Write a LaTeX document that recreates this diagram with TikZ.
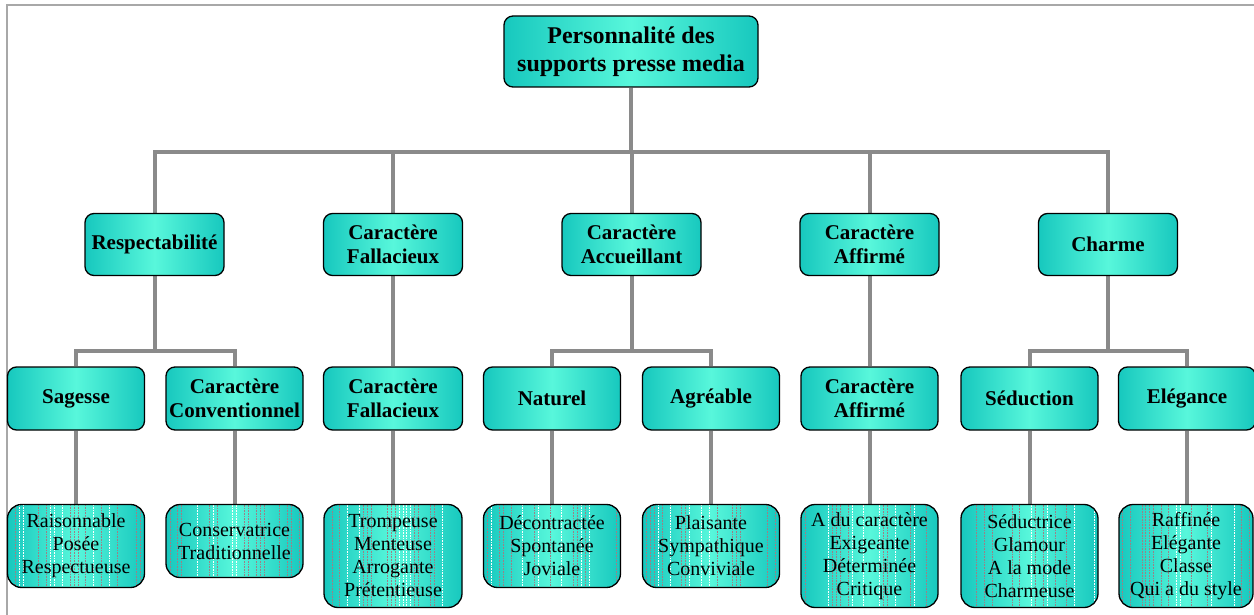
\documentclass[tikz,border=0pt]{standalone}
\usepackage{fontspec}
\setmainfont{Liberation Serif}
\usetikzlibrary{calc}
\pgfdeclarelayer{background}
\pgfsetlayers{background,main}
\definecolor{tealedge}{HTML}{17C8BE}
\definecolor{tealmid}{HTML}{58F7DB}
\definecolor{wire}{HTML}{8A8A8A}
\definecolor{framegray}{HTML}{A8A8A8}
\definecolor{stripedark}{HTML}{9E7F86}

\tikzset{
  box/.style={draw=black, line width=1.3pt, rounded corners=9pt,
    left color=tealedge, right color=tealedge, middle color=tealmid,
    inner sep=0pt, align=center, text=black},
  rootbox/.style={box, font=\fontsize{24}{28}\selectfont\bfseries,
    minimum width=254pt, minimum height=71pt},
  head/.style={box, font=\fontsize{21}{24}\selectfont\bfseries,
    minimum width=139pt, minimum height=62pt},
  sub/.style={box, font=\fontsize{21}{24}\selectfont\bfseries,
    minimum width=137pt, minimum height=63pt},
  leaf/.style={box, rounded corners=14pt, font=\fontsize{20}{23}\selectfont,
    minimum width=137pt, stripes},
  stripes/.style={path picture={
    \coordinate (sw) at (path picture bounding box.south west);
    \coordinate (se) at (path picture bounding box.south east);
    \coordinate (nw) at (path picture bounding box.north west);
    \coordinate (ne) at (path picture bounding box.north east);
    \foreach \t in {1,...,34}{
      \pgfmathsetmacro\f{\t/35}
      \pgfmathrandominteger{\k}{0}{5}
      \ifnum\k<2
        \draw[stripedark, line width=0.7pt, dash pattern=on 0.8pt off 0.8pt]
          ($(sw)!\f!(se)$) -- ($(nw)!\f!(ne)$);
      \else\ifnum\k=2
        \draw[white, line width=0.7pt, dash pattern=on 0.8pt off 0.8pt]
          ($(sw)!\f!(se)$) -- ($(nw)!\f!(ne)$);
      \fi\fi
    }
  }},
  wirestyle/.style={draw=wire, line width=4pt},
}

\begin{document}
\begin{tikzpicture}[x=1pt, y=-1pt]
\pgfmathsetseed{17}
\useasboundingbox (0,0) rectangle (1254,615);

% outer frame (top and left edges)
\draw[framegray, line width=2pt] (1254,5.5) -- (6.5,5.5) -- (6.5,615);

% root
\node[rootbox] (root) at (631,51.5) {Personnalité des\\supports presse media};

% first level
\node[head] (a) at (154.5,244.5) {Respectabilité};
\node[head] (b) at (393,244.5) {Caractère\\Fallacieux};
\node[head] (c) at (631.5,244.5) {Caractère\\Accueillant};
\node[head] (d) at (869.5,244.5) {Caractère\\Affirmé};
\node[head] (e) at (1108,244.5) {Charme};

% second level
\node[sub] (a1) at (76,398.5) {Sagesse};
\node[sub] (a2) at (234.5,398.5) {Caractère\\Conventionnel};
\node[sub, minimum width=139pt] (b1) at (393,398.5) {Caractère\\Fallacieux};
\node[sub] (c1) at (552,398.5) {Naturel};
\node[sub] (c2) at (711,398.5) {Agréable};
\node[sub] (d1) at (869.5,398.5) {Caractère\\Affirmé};
\node[sub] (e1) at (1029.5,398.5) {Séduction};
\node[sub] (e2) at (1187,398.5) {Elégance};

% descriptive leaves
\node[leaf, minimum height=83pt] (l1) at (76,546) {Raisonnable\\Posée\\Respectueuse};
\node[leaf, minimum height=73pt] (l2) at (234.5,541) {Conservatrice\\Traditionnelle};
\node[leaf, minimum height=103pt, minimum width=138pt] (l3) at (393,556) {Trompeuse\\Menteuse\\Arrogante\\Prétentieuse};
\node[leaf, minimum height=83pt] (l4) at (552,546) {Décontractée\\Spontanée\\Joviale};
\node[leaf, minimum height=83pt] (l5) at (711,546) {Plaisante\\Sympathique\\Conviviale};
\node[leaf, minimum height=103pt] (l6) at (869.5,556) {A du caractère\\Exigeante\\Déterminée\\Critique};
\node[leaf, minimum height=103pt] (l7) at (1029.5,556) {Séductrice\\Glamour\\A la mode\\Charmeuse};
\node[leaf, minimum height=103pt, minimum width=134pt] (l8) at (1186,556) {Raffinée\\Elégante\\Classe\\Qui a du style};

% connectors
\coordinate (bus0) at (0,152);
\coordinate (bus1) at (0,351);
\begin{pgfonlayer}{background}
  \foreach \n in {a,b,c,d,e}
    \draw[wirestyle] (root.south) -- (root.south |- bus0) -| (\n.north);
  \draw[wirestyle] (a.south) -- (a.south |- bus1) -| (a1.north);
  \draw[wirestyle] (a.south) -- (a.south |- bus1) -| (a2.north);
  \draw[wirestyle] (b.south) -- (b1.north);
  \draw[wirestyle] (c.south) -- (c.south |- bus1) -| (c1.north);
  \draw[wirestyle] (c.south) -- (c.south |- bus1) -| (c2.north);
  \draw[wirestyle] (d.south) -- (d1.north);
  \draw[wirestyle] (e.south) -- (e.south |- bus1) -| (e1.north);
  \draw[wirestyle] (e.south) -- (e.south |- bus1) -| (e2.north);
  \draw[wirestyle] (a1.south) -- (a1.south |- l1.north);
  \draw[wirestyle] (a2.south) -- (a2.south |- l2.north);
  \draw[wirestyle] (b1.south) -- (b1.south |- l3.north);
  \draw[wirestyle] (c1.south) -- (c1.south |- l4.north);
  \draw[wirestyle] (c2.south) -- (c2.south |- l5.north);
  \draw[wirestyle] (d1.south) -- (d1.south |- l6.north);
  \draw[wirestyle] (e1.south) -- (e1.south |- l7.north);
  \draw[wirestyle] (e2.south) -- (e2.south |- l8.north);
\end{pgfonlayer}
\end{tikzpicture}
\end{document}
